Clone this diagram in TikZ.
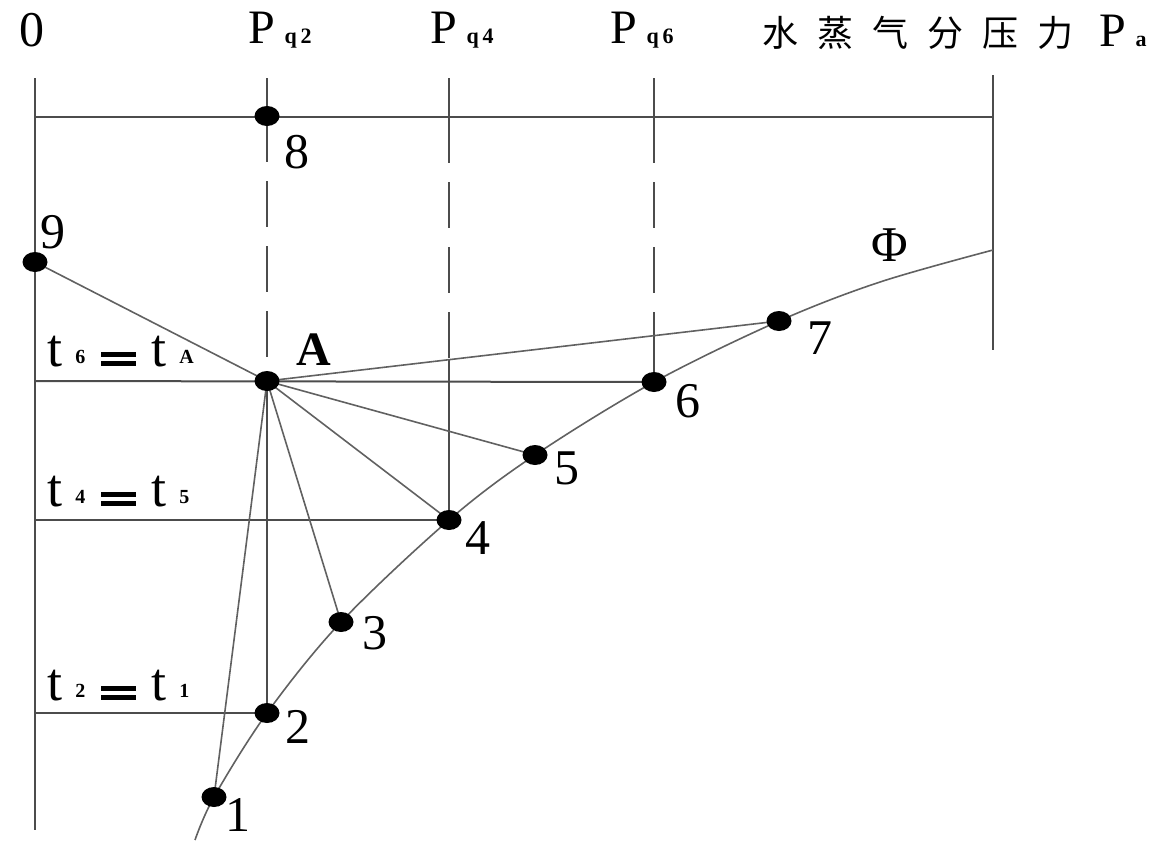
\documentclass[tikz,border=0pt]{standalone}
\usepackage{fontspec}
\setmainfont{Liberation Serif}
\newfontfamily\cjk{Noto Sans CJK SC}
\usetikzlibrary{shapes.geometric}
\newcommand\subx[1]{\hspace{0.2em}{\fontsize{11}{11}\selectfont\bfseries #1}}
\newcommand\tsub[1]{\hspace{6.5pt}\raisebox{0.1ex}{\fontsize{10}{10}\selectfont\bfseries #1}}
\newcommand\beq{\hspace{8pt}\rlap{\raisebox{4.6pt}{\rule{17.5pt}{2.3pt}}}\rule{17.5pt}{2.3pt}\hspace{7.5pt}}
\begin{document}
\begin{tikzpicture}[x=0.5pt,y=-0.5pt,
 ax/.style={draw=black!70, line width=1pt},
 thn/.style={draw=black!62, line width=0.8pt},
 dsh/.style={ax, dash pattern=on 23pt off 9.5pt},
 dot/.style={ellipse, fill=black, inner sep=0pt, minimum width=12.5pt, minimum height=10pt},
 num/.style={font=\fontsize{25}{25}\selectfont, inner sep=0pt},
 lab/.style={font=\fontsize{24}{24}\selectfont, inner sep=0pt},
 tlab/.style={font=\fontsize{27}{27}\selectfont, inner sep=0pt, anchor=base west},
]
\useasboundingbox (0,0) rectangle (1170,853);
% coordinates
\coordinate (o0) at (35,78);
\coordinate (oB) at (35,830);
\coordinate (t8) at (35,117);
\coordinate (r0) at (993,75);
\coordinate (rt) at (993,117);
\coordinate (rB) at (993,350);
\coordinate (q2t) at (267,78);
\coordinate (q4t) at (449,78);
\coordinate (q4h) at (449,117);
\coordinate (q4x) at (449,359.7);
\coordinate (q6t) at (654,78);
\coordinate (q6h) at (654,117);
\coordinate (q6x) at (654,335.6);
\coordinate (h6) at (35,381);
\coordinate (h4) at (35,520);
\coordinate (h2) at (35,713);
\coordinate (p8) at (267,116);
\coordinate (p9) at (35,262);
\coordinate (pA) at (267,381);
\coordinate (p7) at (779,321);
\coordinate (p6) at (654,382);
\coordinate (p5) at (535,455);
\coordinate (p4) at (449,520);
\coordinate (p3) at (341,622);
\coordinate (p2) at (267,713);
\coordinate (p1) at (214,797);
% axes and frame
\draw[ax] (o0) -- (oB);
\draw[ax] (t8) -- (rt);
\draw[ax] (r0) -- (rB);
\draw[ax] (q2t) -- (p8);
\draw[dsh] (p8) -- (pA);
\draw[ax] (pA) -- (p2);
\draw[ax] (q4t) -- (q4h);
\draw[dsh] (q4h) -- (q4x);
\draw[ax] (q4x) -- (p4);
\draw[ax] (q6t) -- (q6h);
\draw[dsh] (q6h) -- (q6x);
\draw[ax] (q6x) -- (p6);
% horizontal temperature lines
\draw[ax] (h6) -- (p6);
\draw[ax] (h4) -- (p4);
\draw[ax] (h2) -- (p2);
% rays from A
\draw[thn] (p9) -- (pA);
\draw[thn] (pA) -- (p7);
\draw[thn] (pA) -- (p5);
\draw[thn] (pA) -- (p4);
\draw[thn] (pA) -- (p3);
\draw[thn] (pA) -- (p1);
% saturation curve
\draw[thn] plot[smooth, tension=0.55] coordinates {(195,840) (214,797) (267,713) (341,622) (449,520) (535,455) (654,382) (779,321) (880,282) (993,250)};
% dots
\foreach \p in {p8,p9,pA,p7,p6,p5,p4,p3,p2,p1} \node[dot] (d\p) at (\p) {};
% labels
\node[num] (l0) at (32,30) {0};
\node[lab, anchor=west] (lq2) at (248,30) {P\subx{q\,2}};
\node[lab, anchor=west] (lq4) at (430,30) {P\subx{q\,4}};
\node[lab, anchor=west] (lq6) at (610,30) {P\subx{q\,6}};
\node[anchor=west, inner sep=0pt] (lpa) at (762,32) {{\cjk\fontsize{18}{18}\selectfont 水\hspace{9.5pt}蒸\hspace{9.5pt}气\hspace{9.5pt}分\hspace{9.5pt}压\hspace{9.5pt}力}\hspace{13pt}{\fontsize{24}{24}\selectfont P\subx{a}}};
\node[num] (l8) at (297,152) {8};
\node[num] (l9) at (53,232) {9};
\node[num, font=\fontsize{24}{24}\selectfont\bfseries] (lA) at (314,350) {A};
\node[num] (l7) at (820,338) {7};
\node[num] (l6) at (688,401) {6};
\node[num] (l5) at (567,468) {5};
\node[num] (l4) at (478,538) {4};
\node[num] (l3) at (375,633) {3};
\node[num] (l2) at (298,727) {2};
\node[num] (l1) at (238,815) {1};
\node[num] (lphi) at (890,245) {Φ};
\node[tlab] (lt6) at (47,366) {t\tsub{6}\beq t\tsub{A}};
\node[tlab] (lt4) at (47,506) {t\tsub{4}\beq t\tsub{5}};
\node[tlab] (lt2) at (47,700) {t\tsub{2}\beq t\tsub{1}};
\end{tikzpicture}
\end{document}
